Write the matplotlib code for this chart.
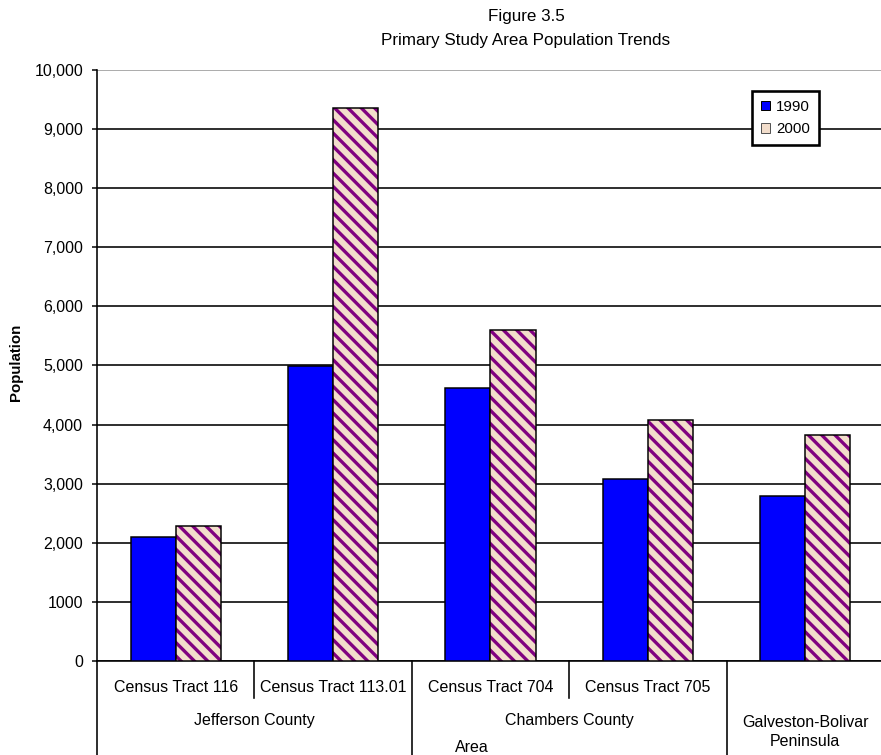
import matplotlib
matplotlib.use("Agg")
import matplotlib.pyplot as plt
from matplotlib.patches import Patch
import matplotlib.transforms as mtransforms

# Population by census tract, 1990 vs 2000
tracts = ["Census Tract 116", "Census Tract 113.01", "Census Tract 704", "Census Tract 705", ""]
counties = ["Jefferson County", "Chambers County", "Galveston-Bolivar\nPeninsula"]
county_span = [(0, 1), (2, 3), (4, 4)]
pop_1990 = [2100, 4990, 4620, 3080, 2790]
pop_2000 = [2290, 9360, 5600, 4080, 3820]
ytick_vals = [0, 1000, 2000, 3000, 4000, 5000, 6000, 7000, 8000, 9000, 10000]
ytick_labels = ["0", "1000", "2,000", "3,000", "4,000", "5,000", "6,000",
                "7,000", "8,000", "9,000", "10,000"]

W, H, DPI = 881, 755, 120
plt.rcParams["font.family"] = ["Liberation Sans", "DejaVu Sans"]
plt.rcParams["hatch.linewidth"] = 2.0


def px(v):
    # pixels -> points at this dpi
    return v * 72.0 / DPI


def fy(py):
    return 1 - py / H


fig = plt.figure(figsize=(W / DPI, H / DPI), dpi=DPI)
ax = fig.add_axes([97 / W, fy(661), (884 - 97) / W, (661 - 70) / H])

x = list(range(len(tracts)))
w = 0.287
ax.bar([i - w / 2 for i in x], pop_1990, w, color="#0000FF",
       edgecolor="black", linewidth=px(1.5), zorder=3)
ax.bar([i + w / 2 for i in x], pop_2000, w, color="#F2DDCB",
       edgecolor="#800080", hatch="\\\\\\", linewidth=0, zorder=3)
ax.bar([i + w / 2 for i in x], pop_2000, w, fill=False,
       edgecolor="black", linewidth=px(1.5), zorder=4)

ax.set_xlim(-0.5, 4.5)
ax.set_ylim(0, 10000)
ax.set_yticks(ytick_vals)
ax.set_yticklabels(ytick_labels, fontsize=px(16))
ax.tick_params(axis="y", direction="out", length=5 * 72 / DPI,
               width=px(1.5), pad=px(9))
ax.set_xticks([])
ax.yaxis.grid(True, color="black", linewidth=px(1.6))
ax.set_axisbelow(True)
ax.get_ygridlines()[-1].set_color("#999999")
for s in ["top", "right"]:
    ax.spines[s].set_visible(False)
ax.spines["left"].set_linewidth(px(1.6))
ax.spines["bottom"].set_linewidth(px(1.6))

# category axis below the plot: tract row and county row
trans = mtransforms.blended_transform_factory(ax.transData, fig.transFigure)
lw_sep = px(1.6)
ax.plot([-0.5, -0.5], [fy(661), fy(755)], transform=trans, clip_on=False,
        color="black", lw=lw_sep)
for sx in [0.5, 2.5]:
    ax.plot([sx, sx], [fy(661), fy(698)], transform=trans, clip_on=False,
            color="black", lw=lw_sep)
for sx in [1.5, 3.5]:
    ax.plot([sx, sx], [fy(661), fy(755)], transform=trans, clip_on=False,
            color="black", lw=lw_sep)

for i, t in enumerate(tracts):
    ax.text(i, fy(688), t, transform=trans, ha="center", va="center",
            fontsize=px(16))
for name, (a, b) in zip(counties, county_span):
    ax.text((a + b) / 2, fy(732) if "\n" in name else fy(720), name,
            transform=trans, ha="center", va="center", fontsize=px(16),
            linespacing=1.4)

fig.text(472 / W, fy(740), "Area", ha="center", va="top", fontsize=px(16))
fig.text(16 / W, fy(362), "Population", rotation=90, ha="center",
         va="center", fontsize=px(15), fontweight="bold")
fig.text(526 / W, fy(17), "Figure 3.5", ha="center", va="center",
         fontsize=px(17))
fig.text(526 / W, fy(41), "Primary Study Area Population Trends",
         ha="center", va="center", fontsize=px(17))

h1990 = Patch(facecolor="#0000FF", edgecolor="black", linewidth=px(1))
h2000 = (Patch(facecolor="#F2DDCB", edgecolor="#555555", linewidth=px(1)),)
leg = ax.legend([h1990, h2000], ["1990", "2000"], loc="upper left",
                bbox_to_anchor=(752 / W, fy(91)), bbox_transform=fig.transFigure,
                borderaxespad=0, fancybox=False, framealpha=1,
                edgecolor="black", fontsize=px(15), handlelength=0.6,
                handleheight=0.6, handletextpad=0.4, borderpad=0.6,
                labelspacing=0.55)
leg.get_frame().set_linewidth(px(2.6))

fig.savefig("out.png", dpi=DPI)
